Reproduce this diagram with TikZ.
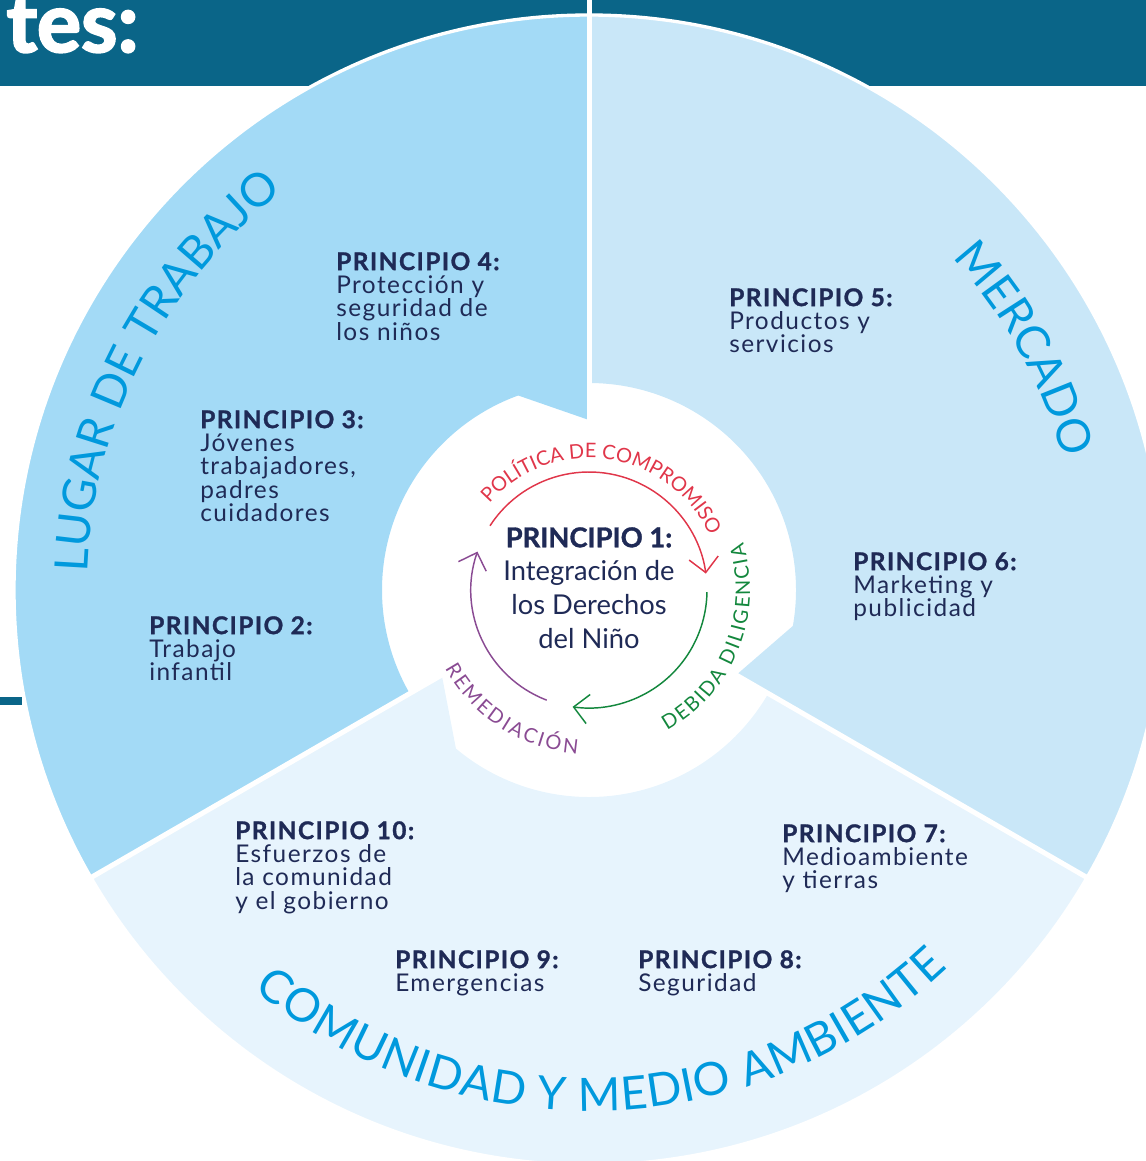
\documentclass[tikz,border=0pt]{standalone}
\usepackage{fontspec}
\setmainfont{Lato}[BoldFeatures={FakeBold=1.2}]
\newfontfamily\espaciada[LetterSpace=6, BoldFeatures={FakeBold=1.2}]{Lato}
\newfontfamily\titular[BoldFeatures={FakeBold=2.5}]{Lato}
\usetikzlibrary{arrows.meta,decorations.text}

\definecolor{banner}{HTML}{0A6588}
\definecolor{lugar}{HTML}{A3DAF6}
\definecolor{mercado}{HTML}{C9E7F8}
\definecolor{comunidad}{HTML}{E7F4FD}
\definecolor{titleblue}{HTML}{0099DD}
\definecolor{navy}{HTML}{1F2A56}
\definecolor{rojo}{HTML}{E0364A}
\definecolor{verde}{HTML}{13873D}
\definecolor{morado}{HTML}{8A4B93}

\newcommand\arcfont{\fontsize{34.5}{40}\selectfont}
\newcommand\cyclefont{\fontsize{15}{18}\selectfont}

\tikzset{
  principio/.style={anchor=north west, inner sep=0pt, align=left, text=navy,
    font=\espaciada\fontsize{18.3}{17.5}\selectfont},
  ambito/.style={decorate, decoration={text along path, text align={fit to path},
    text={|\arcfont\color{titleblue}|#1}}},
  ambito centrado/.style={decorate, decoration={text along path, text align={center},
    text={|\arcfont\color{titleblue}|#1}}},
  etapa/.style 2 args={decorate, decoration={text along path, text align={fit to path},
    text={|\cyclefont\color{#1}|#2}}},
  etapa centrada/.style 2 args={decorate, decoration={text along path, text align={center},
    text={|\cyclefont\color{#1}|#2}}},
  ciclo/.style={line width=1.1pt, -{Straight Barb[length=11pt,width=22pt]}},
}

\begin{document}
\lineskiplimit=-50pt
\begin{tikzpicture}[x=0.75pt,y=0.75pt]
  \useasboundingbox (0,0) rectangle (1146,-1161);
  \fill[banner] (0,0) rectangle (1146,-86);
  \fill[banner] (0,-697) rectangle (22,-705);
  \node[anchor=base east, inner sep=0pt, text=white,
    font=\titular\fontsize{62}{66}\selectfont\bfseries] (titulo) at (139,-52) {tes:};

  \begin{scope}[shift={(589,-590)}]
    \coordinate (C) at (0,0);
    % three sectors, each with its notch
    \foreach \a/\col in {90/lugar,-30/mercado,210/comunidad}
      \fill[\col] (\a:170) -- ({\a+20}:207)
        arc[start angle=\a+20, end angle=\a+120, radius=207]
        -- ({\a+120}:575) arc[start angle=\a+120, end angle=\a, radius=575] -- cycle;
    \foreach \a in {90,210,330}
      \draw[white, line width=3.75pt] (\a:165) -- (\a:590);
    \draw[white, line width=2.5pt] (C) circle[radius=575];

    \path[ambito=LUGAR DE TRABAJO] (178:502) arc[start angle=178, end angle=127.5, radius=502];
    \path[ambito centrado=MERCADO] (50:492) arc[start angle=50, end angle=8, radius=492];
    \path[ambito=COMUNIDAD Y MEDIO AMBIENTE] (230:521) arc[start angle=230, end angle=313.5, radius=521];

    \draw[ciclo, rojo] (147:118) arc[start angle=147, end angle=8, radius=118];
    \draw[ciclo, verde] (-1:118) arc[start angle=-1, end angle=-98, radius=118];
    \draw[ciclo, morado] (249:118) arc[start angle=249, end angle=161, radius=118];

    \path[etapa centrada={rojo}{POLÍTICA DE COMPROMISO}] (155:132) arc[start angle=155, end angle=8, radius=132];
    \path[etapa={verde}{DEBIDA DILIGENCIA}] (-61:161) arc[start angle=-61, end angle=17, radius=161];
    \path[etapa={morado}{REMEDIACIÓN}] (208.6:164) arc[start angle=208.6, end angle=266, radius=164];
  \end{scope}

  \node[anchor=north, inner sep=0pt, align=center, text=navy,
    font=\fontsize{20.5}{25.3}\selectfont] (p1) at (589,-527)
    {\textbf{PRINCIPIO 1:}\\Integración de\\los Derechos\\del Niño};
  \node[principio] (p2) at (149,-616) {\textbf{PRINCIPIO 2:}\\Trabajo\\infantil};
  \node[principio] (p3) at (200,-410) {\textbf{PRINCIPIO 3:}\\Jóvenes\\trabajadores,\\padres\\cuidadores};
  \node[principio] (p4) at (336,-252) {\textbf{PRINCIPIO 4:}\\Protección y\\seguridad de\\los niños};
  \node[principio] (p5) at (729,-288) {\textbf{PRINCIPIO 5:}\\Productos y\\servicios};
  \node[principio] (p6) at (853,-552) {\textbf{PRINCIPIO 6:}\\Marketing y\\publicidad};
  \node[principio] (p7) at (782,-824) {\textbf{PRINCIPIO 7:}\\Medioambiente\\y tierras};
  \node[principio] (p8) at (638,-950) {\textbf{PRINCIPIO 8:}\\Seguridad};
  \node[principio] (p9) at (395,-950) {\textbf{PRINCIPIO 9:}\\Emergencias};
  \node[principio] (p10) at (235,-821) {\textbf{PRINCIPIO 10:}\\Esfuerzos de\\la comunidad\\y el gobierno};
\end{tikzpicture}
\end{document}
